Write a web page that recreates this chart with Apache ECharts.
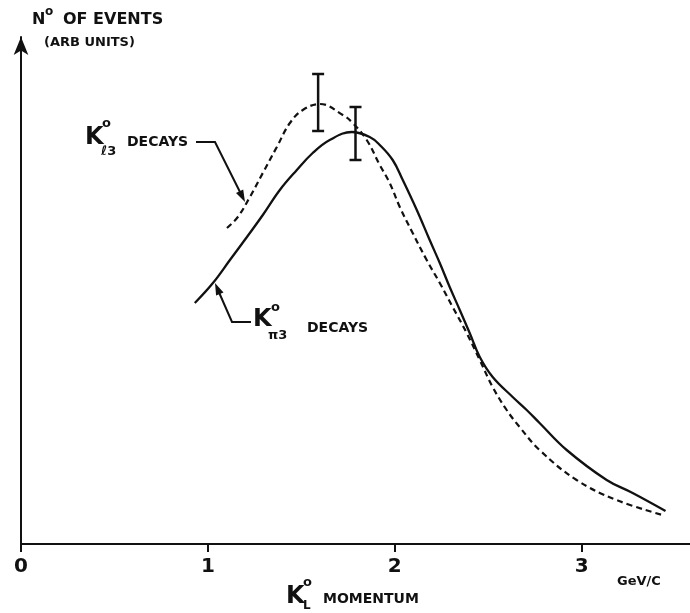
<!DOCTYPE html>
<html><head><meta charset="utf-8">
<script src="https://cdn.jsdelivr.net/npm/echarts@6/dist/echarts.min.js"></script>
<style>html,body{margin:0;padding:0;background:#fff}#c{width:690px;height:613px}</style>
</head><body><div id="c"></div>
<script>
// x tick positions and labels (GeV/c)
const xTicks = [0, 1, 2, 3];
const xTickLabels = ['0', '1', '2', '3'];

// K°π3 decays (solid curve)
const pi3X = [0.930, 1.027, 1.118, 1.209, 1.294, 1.385, 1.476, 1.561, 1.652, 1.770, 1.866, 1.920, 1.989, 2.043, 2.118, 2.187, 2.241, 2.294, 2.348, 2.401, 2.455, 2.524, 2.631, 2.706, 2.775, 2.920, 3.134, 3.273, 3.449];
const pi3Y = [2.41, 2.61, 2.84, 3.07, 3.29, 3.54, 3.74, 3.91, 4.04, 4.12, 4.07, 3.99, 3.84, 3.64, 3.34, 3.04, 2.81, 2.57, 2.34, 2.11, 1.87, 1.67, 1.47, 1.34, 1.21, 0.94, 0.64, 0.51, 0.33];

// K°l3 decays (dashed curve)
const l3X = [1.102, 1.160, 1.225, 1.294, 1.369, 1.439, 1.508, 1.600, 1.722, 1.775, 1.850, 1.920, 1.973, 2.027, 2.096, 2.171, 2.241, 2.310, 2.385, 2.455, 2.524, 2.599, 2.668, 2.775, 2.973, 3.187, 3.433];
const l3Y = [3.16, 3.27, 3.47, 3.71, 3.97, 4.21, 4.34, 4.40, 4.29, 4.21, 4.04, 3.79, 3.61, 3.37, 3.11, 2.84, 2.61, 2.37, 2.11, 1.84, 1.57, 1.34, 1.17, 0.94, 0.64, 0.44, 0.29];

// error bars
const errX = [1.59, 1.79];
const errLo = [4.13, 3.84];
const errHi = [4.70, 4.37];

const INK = '#111';
const chart = echarts.init(document.getElementById('c'));
const zip = (a, b) => a.map((v, i) => [v, b[i]]);
const F = '"DejaVu Sans", sans-serif';
function txt(x, y, text, size, align) {
  return { type: 'text', x: x, y: y, silent: true,
    style: { text: text, font: 'bold ' + size + 'px ' + F, fill: INK,
      textAlign: align || 'left', textVerticalAlign: 'middle' } };
}

chart.setOption({
  animation: false,
  backgroundColor: '#fff',
  grid: { left: 21, right: 0, top: 37, bottom: 69, containLabel: false },
  xAxis: {
    type: 'value', min: 0, max: 3.58, interval: 1,
    splitLine: { show: false },
    axisLine: { lineStyle: { color: INK, width: 2 } },
    axisTick: { show: true, length: 8, inside: false, customValues: xTicks, lineStyle: { color: INK, width: 2 } },
    axisLabel: { customValues: xTicks, margin: 13, color: INK, fontSize: 20, fontWeight: 'bold', fontFamily: 'DejaVu Sans',
      formatter: v => xTickLabels[xTicks.indexOf(v)] || '' }
  },
  yAxis: {
    type: 'value', min: 0, max: 5.07,
    splitLine: { show: false },
    axisTick: { show: false }, axisLabel: { show: false },
    axisLine: { show: true, symbol: ['none', 'arrow'], symbolSize: [11, 18], lineStyle: { color: INK, width: 2 } }
  },
  series: [
    { type: 'line', data: zip(pi3X, pi3Y), smooth: 0.4, symbol: 'none',
      lineStyle: { color: INK, width: 2.3 } },
    { type: 'line', data: zip(l3X, l3Y), smooth: 0.4, symbol: 'none',
      lineStyle: { color: INK, width: 2.2, type: [6, 4] } },
    { type: 'custom', data: errX.map((x, i) => [x, errLo[i], errHi[i]]),
      renderItem: function (params, api) {
        const x = api.value(0);
        const p1 = api.coord([x, api.value(1)]);
        const p2 = api.coord([x, api.value(2)]);
        const w = 6;
        const st = { stroke: INK, lineWidth: 2.5 };
        return { type: 'group', children: [
          { type: 'line', shape: { x1: p1[0], y1: p1[1], x2: p2[0], y2: p2[1] }, style: st },
          { type: 'line', shape: { x1: p1[0] - w, y1: p1[1], x2: p1[0] + w, y2: p1[1] }, style: st },
          { type: 'line', shape: { x1: p2[0] - w, y1: p2[1], x2: p2[0] + w, y2: p2[1] }, style: st }
        ] };
      } }
  ],
  graphic: [
    // y axis title
    txt(32, 20, 'N', 16),
    txt(45, 12, 'o', 12),
    txt(63, 20, 'OF EVENTS', 16),
    txt(44, 43, '(ARB UNITS)', 13),
    // K l3 label
    txt(85, 138, 'K', 24),
    txt(102, 124, 'o', 13),
    txt(101, 152, 'ℓ3', 13),
    txt(127, 142, 'DECAYS', 14),
    { type: 'polyline', silent: true, shape: { points: [[196, 142], [215, 142], [240, 192]] }, style: { stroke: INK, lineWidth: 2, fill: null } },
    { type: 'polygon', silent: true, shape: { points: [[245, 202], [236, 193.1], [243.2, 189.5]] }, style: { fill: INK } },
    // K pi3 label
    txt(253, 320, 'K', 24),
    txt(271, 308, 'o', 13),
    txt(268, 336, 'π3', 13),
    txt(307, 328, 'DECAYS', 14),
    { type: 'polyline', silent: true, shape: { points: [[251, 322], [232, 322], [219.5, 293.5]] }, style: { stroke: INK, lineWidth: 2, fill: null } },
    { type: 'polygon', silent: true, shape: { points: [[215, 283], [223.5, 292.4], [216.1, 295.6]] }, style: { fill: INK } },
    // x axis title
    txt(286, 597, 'K', 24),
    txt(303, 583, 'o', 13),
    txt(303, 606, 'L', 12),
    txt(323, 599, 'MOMENTUM', 14),
    txt(617, 582, 'GeV/C', 13)
  ]
});
</script></body></html>
